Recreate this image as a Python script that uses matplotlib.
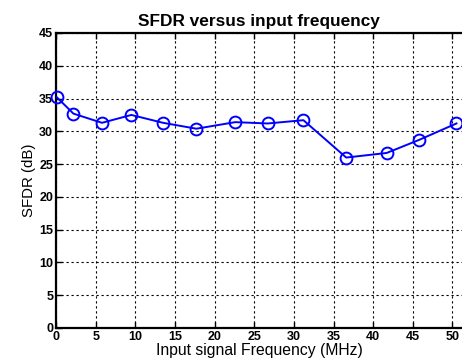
import matplotlib.pyplot as plt
from matplotlib.ticker import MultipleLocator

freq_mhz = [0.1, 2.2, 5.8, 9.5, 13.5, 17.7, 22.6, 26.7, 31.2, 36.6, 41.7, 45.8, 50.5]
sfdr_db = [35.2, 32.7, 31.3, 32.5, 31.3, 30.4, 31.4, 31.2, 31.7, 26.0, 26.7, 28.7, 31.2]
x_ticks = [0, 5, 10, 15, 20, 25, 30, 35, 40, 45, 50]

plt.rcParams["font.family"] = ["Liberation Sans", "DejaVu Sans"]

fig = plt.figure(figsize=(4.62, 3.63), dpi=100)
ax = fig.add_axes((56 / 462, 35 / 363, 406 / 462, 295 / 363))

ax.plot(freq_mhz, sfdr_db, color="#0000ff", lw=1.4, marker="o", ms=8.5,
        mfc="none", mec="#0000ff", mew=1.4, clip_on=False, zorder=3)

ax.set_xlim(0, 51.2)
ax.set_ylim(0, 45)
ax.set_xticks(x_ticks)
ax.yaxis.set_major_locator(MultipleLocator(5))
ax.grid(True, color="black", ls=(0, (2, 2.5)), lw=0.8)

for s in ax.spines.values():
    s.set_linewidth(1.6)
# reference is cropped right at the right edge of the box
ax.spines["right"].set_visible(False)
ax.tick_params(direction="in", length=4, width=1, top=True, right=False,
               labelsize=9, pad=2)
for lbl in ax.get_xticklabels() + ax.get_yticklabels():
    lbl.set_fontweight("bold")

ax.set_title("SFDR versus input frequency", fontsize=12.4, fontweight="bold", pad=5)
ax.set_xlabel("Input signal Frequency (MHz)", fontsize=11.3, labelpad=0)
ax.set_ylabel("SFDR (dB)", fontsize=10.8, labelpad=2)

fig.savefig("out.png", dpi=100)
